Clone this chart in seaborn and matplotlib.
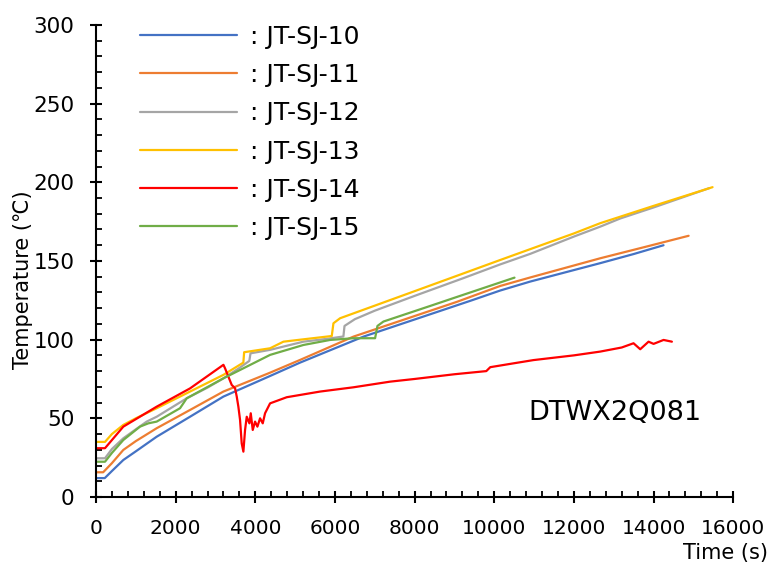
import numpy as np
import pandas as pd
import matplotlib
matplotlib.use("Agg")
import matplotlib.pyplot as plt
from matplotlib.ticker import MultipleLocator
import seaborn as sns

# Thermocouple readings: time (s) and temperature (°C) per sensor
series_names = ["JT-SJ-10", "JT-SJ-11", "JT-SJ-12", "JT-SJ-13", "JT-SJ-14", "JT-SJ-15"]

t_sj10 = [0, 220, 400, 686, 1000, 1524, 2361, 3199, 4371, 5124, 6000, 6715, 8000,
          9437, 10148, 10902, 12660, 13500, 14250]
temp_sj10 = [12, 12, 16.5, 23.5, 29, 38.3, 51, 63.8, 76.9, 85.4, 94.5, 101.9, 112.8,
             125, 131.2, 136.9, 148.6, 154.4, 160]

t_sj11 = [0, 180, 400, 686, 1000, 1524, 2361, 3199, 4371, 5124, 6463, 8000, 9060,
          10148, 10902, 12660, 13800, 14880]
temp_sj11 = [15.7, 15.7, 21.5, 29.9, 35.5, 43.7, 55.3, 67, 79, 87.1, 101.9, 115, 124,
             134.1, 139.5, 151.7, 159, 166]

t_sj12 = [0, 226, 400, 686, 1000, 1273, 1524, 2277, 2800, 3200, 3600, 3850, 3880,
          4371, 5208, 5800, 6212, 6240, 6500, 7000, 8000, 9227, 10148, 10902, 12000,
          12660, 13163, 14000, 15400]
temp_sj12 = [24.6, 24.6, 30.5, 37.3, 43, 47.9, 51, 62.7, 69.5, 75.4, 82, 86.5, 91.3,
             93.5, 98.7, 100.5, 102, 108.7, 113, 118.4, 127.8, 139.1, 147.8, 154.5, 165.5,
             171.8, 177, 184, 196.3]

t_sj13 = [0, 226, 400, 686, 1000, 1524, 2361, 3199, 3700, 3720, 4371, 4706, 5208,
          5920, 5962, 6129, 7000, 8000, 9227, 10148, 10902, 12000, 12660, 14000, 15481]
temp_sj13 = [35, 35, 40, 45.8, 50, 56.4, 67, 77.6, 85.4, 92, 94.5, 98.7, 100.2,
             102.3, 110.4, 113.6, 121.6, 130.8, 142.1, 150.6, 157.5, 167.5, 174, 185, 196.9]

t_sj14 = [0, 226, 686, 1524, 2361, 3200, 3240, 3324, 3408, 3492, 3534, 3575, 3617,
          3659, 3701, 3743, 3785, 3852, 3886, 3936, 3994, 4053, 4120, 4187, 4245, 4371,
          4790, 5627, 6463, 7385, 8000, 9000, 9800, 9900, 10500, 10985, 12000, 12660,
          13200, 13497, 13665, 13874, 14000, 14251, 14460]
temp_sj14 = [31, 31, 44.7, 57.4, 69, 84, 81.8, 76.5, 71.2, 69.1, 63.8, 57.4, 49,
             34, 28.8, 42.6, 51, 46.8, 53.2, 42.6, 47.9, 44.7, 50, 46.8, 53.2, 59.5,
             63.4, 67, 69.7, 73.3, 75, 78, 80, 82.5, 85, 87, 90, 92.4,
             95, 97.7, 93.9, 98.7, 97.3, 99.8, 98.7]

t_sj15 = [0, 226, 400, 686, 1105, 1314, 1524, 2110, 2193, 2277, 3199, 4371, 5208,
          5878, 6463, 7008, 7067, 7218, 8390, 8976, 10508]
temp_sj15 = [22.4, 22.4, 28, 36.2, 44.7, 46.8, 47.9, 56.4, 59.5, 62.7, 75.4, 90.3, 96.6,
             99.8, 100.9, 100.9, 108.7, 111.5, 121.4, 126.4, 139.4]

times = [t_sj10, t_sj11, t_sj12, t_sj13, t_sj14, t_sj15]
temps = [temp_sj10, temp_sj11, temp_sj12, temp_sj13, temp_sj14, temp_sj15]

colors = ["#4472C4", "#ED7D31", "#A5A5A5", "#FFC000", "#FF0000", "#70AD47"]

frames = []
for name, t, v in zip(series_names, times, temps):
    frames.append(pd.DataFrame({"time": t, "temp": v, "sensor": name}))
df = pd.concat(frames, ignore_index=True)

sns.set_style("ticks")
plt.rcParams["font.family"] = ["DejaVu Sans"]
plt.rcParams["text.color"] = "black"
plt.rcParams["axes.labelcolor"] = "black"
plt.rcParams["xtick.color"] = "black"
plt.rcParams["ytick.color"] = "black"

fig = plt.figure(figsize=(7.71, 5.67), dpi=100)
ax = fig.add_axes([0.1245, 0.1235, 0.8265, 0.8325])

sns.lineplot(data=df, x="time", y="temp", hue="sensor", hue_order=series_names,
             palette=dict(zip(series_names, colors)), sort=False, estimator=None,
             units="sensor", linewidth=1.6, ax=ax, legend=True)

ax.set_xlim(0, 16000)
ax.set_ylim(0, 300)
ax.xaxis.set_major_locator(MultipleLocator(2000))
ax.xaxis.set_minor_locator(MultipleLocator(400))
ax.yaxis.set_major_locator(MultipleLocator(50))
ax.yaxis.set_minor_locator(MultipleLocator(10))

sns.despine(ax=ax)
for sp in ("left", "bottom"):
    ax.spines[sp].set_linewidth(1.5)
    ax.spines[sp].set_color("black")

ax.tick_params(which="major", direction="inout", length=9, width=1.5,
               color="black", labelcolor="black")
ax.tick_params(axis="x", which="major", pad=11, labelsize=14.5)
ax.tick_params(axis="y", which="major", pad=11, labelsize=15.5)
ax.tick_params(which="minor", direction="in", length=4, width=1.3, color="black")

ax.set_xlabel("Time (s)", fontsize=15, ha="right", color="black")
ax.xaxis.set_label_coords(1.055, -0.097)
ax.set_ylabel("Temperature (℃)", fontsize=15, color="black")
ax.yaxis.set_label_coords(-0.099, 0.46)

handles, labels = ax.get_legend_handles_labels()
leg = ax.legend(handles, [": " + lb for lb in labels], loc="upper left",
                bbox_to_anchor=(0.069, 1.0), frameon=False, fontsize=18,
                handlelength=3.9, handletextpad=0.52, labelspacing=0.57,
                borderaxespad=0, borderpad=0)
for txt in leg.get_texts():
    txt.set_color("black")

ax.text(0.814, 0.178, "DTWX2Q081", transform=ax.transAxes, fontsize=19.5,
        ha="center", va="center", color="black")

fig.savefig("out.png", dpi=100)
